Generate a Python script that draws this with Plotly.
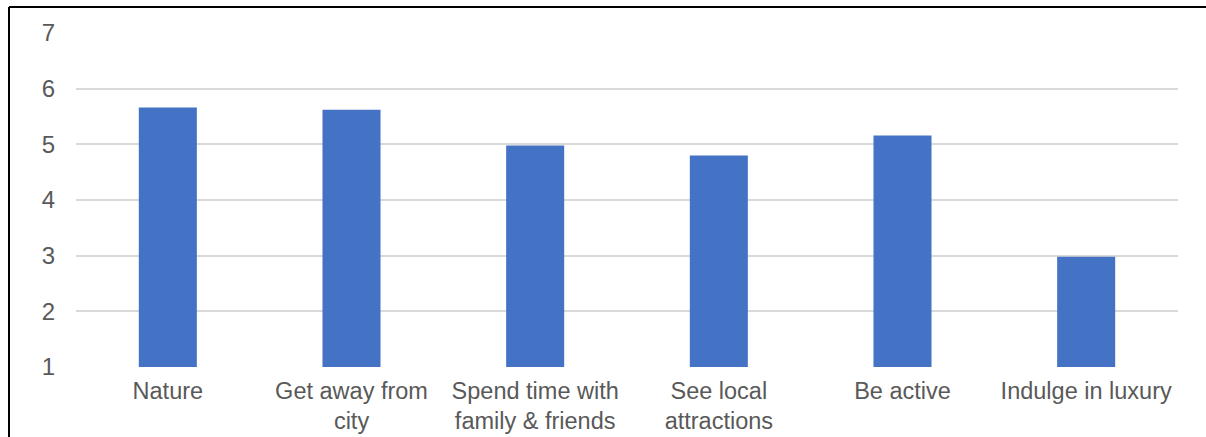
import plotly.graph_objects as go

categories = ["Nature", "Get away from<br>city", "Spend time with<br>family & friends",
              "See local<br>attractions", "Be active", "Indulge in luxury"]
values = [5.66, 5.62, 4.98, 4.80, 5.16, 2.98]
y_ticks = [1, 2, 3, 4, 5, 6, 7]

W, H = 1206, 437
L, R, T, B = 76, 28, 33, 70
pw, ph = W - L - R, H - T - B

fig = go.Figure(go.Bar(x=categories, y=values, marker=dict(color="#4472C4", line=dict(width=0))))

fig.update_layout(
    width=W, height=H,
    margin=dict(l=L, r=R, t=T, b=B, autoexpand=False),
    paper_bgcolor="white", plot_bgcolor="white",
    bargap=0.684,
    showlegend=False,
    font=dict(family="Liberation Sans, Arial, sans-serif", size=24, color="#595959"),
    xaxis=dict(showgrid=False, zeroline=False, showline=False, ticks="", automargin=False,
               ticklabelstandoff=7, tickfont=dict(size=23.5, color="#595959")),
    yaxis=dict(range=[1, 7], tickvals=y_ticks, showgrid=True, gridcolor="#d9d9d9", gridwidth=2,
               zeroline=False, showline=False, ticks="", ticklabelstandoff=20, automargin=False,
               tickfont=dict(size=24, color="#595959")),
    shapes=[
        dict(type="line", xref="paper", yref="paper",
             x0=(9 - L) / pw, x1=(W - L) / pw + 0.01, y0=1 + (T - 7) / ph, y1=1 + (T - 7) / ph,
             line=dict(color="black", width=2)),
        dict(type="line", xref="paper", yref="paper",
             x0=(9 - L) / pw, x1=(9 - L) / pw, y0=1 + (T - 7) / ph, y1=-(B + 5) / ph,
             line=dict(color="black", width=2)),
    ],
)

fig.write_html("out.html")
